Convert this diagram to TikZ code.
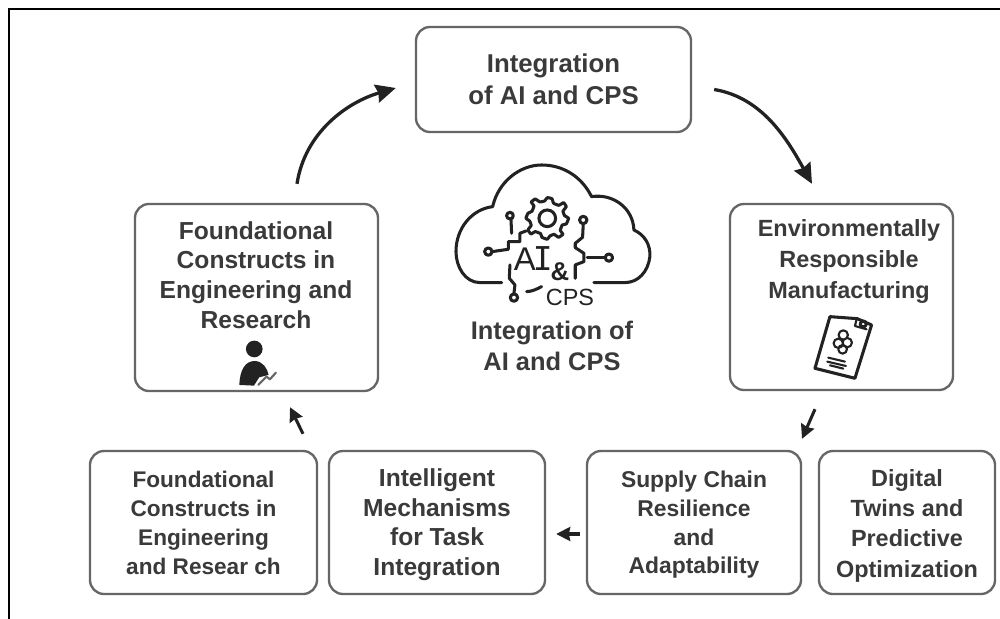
\documentclass[tikz,border=0pt]{standalone}
\usepackage{fontspec}
\setmainfont{Liberation Sans}
\newfontfamily\serifmono{DejaVu Sans Mono}
\usetikzlibrary{arrows.meta,calc}
\definecolor{ink}{HTML}{3A3A3A}
\definecolor{edgegray}{HTML}{666666}
\definecolor{iconink}{HTML}{222222}
\tikzset{
  x=0.03cm,y=-0.03cm,
  box/.style={draw=edgegray,line width=2pt,rounded corners=0.42cm,fill=white,inner sep=0pt,
    text=ink,align=center,font=\fontsize{20}{25.4}\selectfont\bfseries},
  label/.style={inner sep=0pt,text=ink,align=center,font=\fontsize{20}{25.6}\selectfont\bfseries},
  bigarrow/.style={draw=iconink,line width=2.8pt,-{Stealth[length=0.6cm,width=0.55cm,inset=0.06cm]}},
  smallarrow/.style={draw=iconink,line width=2.6pt,-{Stealth[length=0.42cm,width=0.42cm,inset=0.04cm]}},
  icon/.style={draw=iconink,line width=2.6pt,line cap=round,line join=round},
  iconthin/.style={draw=iconink,line width=1.8pt,line cap=round,line join=round},
}
\begin{document}
\begin{tikzpicture}
\useasboundingbox (0,0) rectangle (1000,619);
\fill[white] (0,0) rectangle (1000,619);
\draw[line width=1.7pt,black] (9,619) -- (9,9) -- (1000,9);

% boxes
\node[box,minimum width=8.25cm,minimum height=3.15cm,font=\fontsize{22}{27.5}\selectfont\bfseries] (top) at (553.5,79.5) {Integration\\of AI and CPS};
\node[box,minimum width=7.29cm,minimum height=5.61cm] (fnd) at (256.5,297.5) {};
\node[box,minimum width=6.69cm,minimum height=5.58cm] (env) at (841.5,297) {};
\node[box,minimum width=6.81cm,minimum height=4.29cm,font=\fontsize{19.3}{24.8}\selectfont\bfseries] (fnd2) at (203.5,522.5) {\rule{0pt}{15pt}Foundational\\Constructs in\\Engineering\\and Resear ch};
\node[box,minimum width=6.48cm,minimum height=4.29cm,font=\fontsize{21}{25.2}\selectfont\bfseries] (mech) at (437,522.5) {\rule{0pt}{19pt}Intelligent\\Mechanisms\\for Task\\Integration};
\node[box,minimum width=6.42cm,minimum height=4.29cm,font=\fontsize{19.5}{24.6}\selectfont\bfseries] (sup) at (694,522.5) {\rule{0pt}{18pt}Supply Chain\\Resilience\\and\\Adaptability};
\node[box,minimum width=5.28cm,minimum height=4.29cm,font=\fontsize{20}{25.8}\selectfont\bfseries] (twin) at (907,522.5) {\rule{0pt}{20pt}Digital\\Twins and\\Predictive\\Optimization};

\node[label,font=\fontsize{21}{25.4}\selectfont\bfseries] (fndtext) at (256,275) {Foundational\\Constructs in\\Engineering and\\Research};
\node[label,font=\fontsize{20}{26.4}\selectfont\bfseries] (envtext) at (849,261.5) {Environmentally\\Responsible\\Manufacturing};
\node[label,font=\fontsize{21.7}{26.4}\selectfont\bfseries] (centertext) at (552,346) {Integration of\\AI and CPS};

% connectors
\draw[bigarrow] ([shift={(22,10)}]top.east) .. controls +(48,8) and +(-25,-45) .. ([shift={(-29.5,-19)}]env.north);
\draw[bigarrow] ([shift={(40.5,-19)}]fnd.north) .. controls +(8,-52) and +(-48,14) .. ([shift={(-19,8.5)}]top.west);
\draw[smallarrow] ([shift={(-26.5,18)}]env.south) -- ([shift={(108,-11)}]sup.north);
\draw[smallarrow] ([shift={(-6,11.5)}]sup.west) -- ([shift={(10,11.5)}]mech.east);
\draw[smallarrow] ([shift={(99.5,-16)}]fnd2.north) -- ([shift={(33.5,15)}]fnd.south);

% cloud icon
\begin{scope}[shift={(430,150)},x=0.01cm,y=-0.01cm]
  \draw[icon] (215,398) -- (150,398) .. controls (105,398) and (78,350) .. (78,305)
    .. controls (78,235) and (125,178) .. (188,170)
    .. controls (205,95) and (270,45) .. (335,45)
    .. controls (400,45) and (455,80) .. (485,140)
    .. controls (550,130) and (610,175) .. (612,240)
    .. controls (645,255) and (662,285) .. (660,320)
    .. controls (655,365) and (625,398) .. (585,398) -- (492,398);
  \draw[icon] (352,205) circle (25);
  \draw[icon] plot[smooth cycle,tension=0.2] coordinates {
    (352,143) (366,146) (371,160) (387,166) (401,158) (409,170) (399,184) (404,197) (416,205)
    (409,222) (397,225) (391,241) (399,253) (386,262) (372,253) (360,258) (352,268)
    (336,262) (332,251) (316,245) (303,252) (294,240) (304,226) (299,213) (288,205)
    (294,190) (306,184) (312,168) (304,156) (316,147) (330,156) (344,153)};
  \draw[icon] (240,197) circle (10);
  \draw[icon] (243,207) -- (245,250);
  \draw[icon] (175,305) circle (11);
  \draw[icon] (187,305) -- (235,298) -- (235,275) -- (270,275) -- (270,250) -- (288,243);
  \draw[icon] (460,210) circle (11);
  \draw[icon] (460,222) -- (458,262) -- (436,280) -- (436,293) -- (462,310) -- (462,335) -- (436,345) -- (436,385);
  \draw[icon] (472,323) -- (525,323);
  \draw[icon] (537,323) circle (11);
  \draw[icon] (240,345) -- (238,385) -- (255,405) -- (252,430);
  \draw[icon] (252,443) circle (11);
  \draw[icon] (290,425) .. controls (305,425) and (320,418) .. (335,410);
  \node[inner sep=0pt,text=iconink,font=\fontsize{28}{28}\selectfont] (ailabel) at (310,325) {A\kern-2.5pt{\serifmono I}};
  \node[inner sep=0pt,text=iconink,font=\fontsize{22}{22}\selectfont\bfseries] (amp) at (390,365) {\&};
  \node[inner sep=0pt,text=iconink,font=\fontsize{20}{20}\selectfont] (cpslabel) at (420,443) {CPS};
\end{scope}

% document icon
\begin{scope}[shift={(720,300)},x=0.01cm,y=-0.01cm]
  \draw[icon] (330,50) -- (412,56) -- (455,75) -- (405,235) -- (285,205) -- cycle;
  \draw[iconthin] (410,58) -- (405,78) -- (440,88);
  \draw[icon] (430,72) circle (9);
  \draw[iconthin] (370,105) circle (14) (355,130) circle (14) (382,128) circle (14) (368,148) circle (13);
  \draw[iconthin] (325,173) -- (375,185) (322,185) -- (378,198) (330,196) -- (370,206);
\end{scope}

% person icon
\begin{scope}[shift={(130,300)},x=0.01cm,y=-0.01cm]
  \fill[iconink] (373,147) circle (25);
  \fill[iconink] (328,255) .. controls (330,210) and (345,183) .. (375,183)
    .. controls (400,185) and (412,205) .. (416,225) -- (388,232) -- (372,257) -- cycle;
  \draw[iconthin,draw=edgegray] (385,255) -- (410,230) -- (420,238) -- (438,218);
\end{scope}
\end{tikzpicture}
\end{document}
